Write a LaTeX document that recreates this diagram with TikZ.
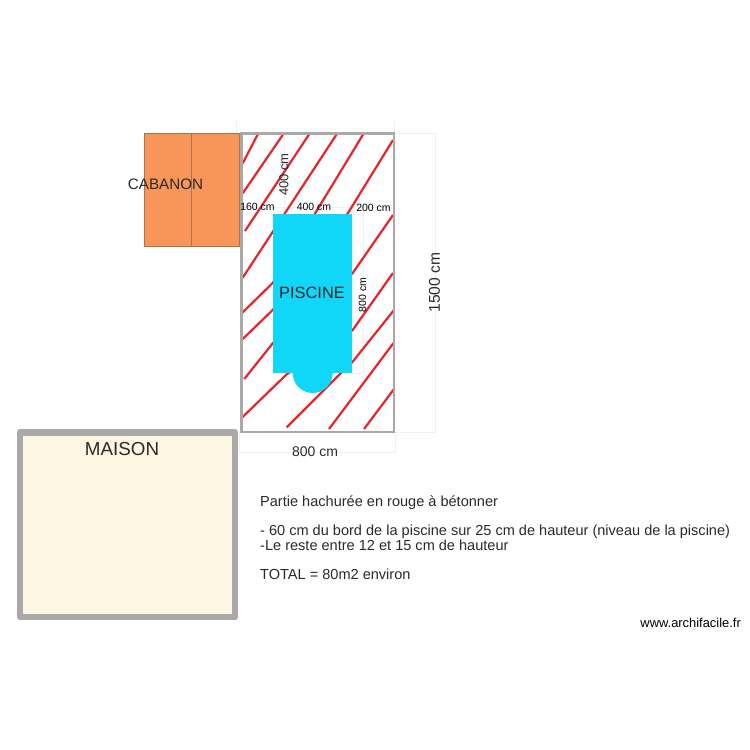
\documentclass[tikz,border=0pt]{standalone}
\usepackage{fontspec}
\setmainfont{Liberation Sans}
\definecolor{hatch}{HTML}{E8252B}
\definecolor{framegray}{HTML}{A9A9A9}
\definecolor{dimgray}{HTML}{F0F0F0}
\definecolor{pool}{HTML}{10D6F8}
\definecolor{cab}{HTML}{F89558}
\definecolor{cabline}{HTML}{A87350}
\definecolor{house}{HTML}{FDF6E3}
\definecolor{txt}{HTML}{2A2A2A}
\tikzset{
  hatchline/.style={draw=hatch,line width=2.2pt},
  dimline/.style={draw=dimgray,line width=0.8pt},
  lbl/.style={inner sep=0pt,text=txt,font=\fontsize{14}{16}\selectfont},
  smalllbl/.style={inner sep=0pt,text=black,font=\fontsize{10.5}{12}\selectfont},
  note/.style={inner sep=0pt,anchor=base west,text=txt,font=\fontsize{14.55}{16}\selectfont}
}
\begin{document}
\begin{tikzpicture}[x=1pt,y=-1pt]
\useasboundingbox (0,0) rectangle (750,750);
\fill[white] (0,0) rectangle (750,750);
% dimension lines
\draw[dimline] (236,133) -- (236,120);
\draw[dimline] (394,133) -- (394,120);
\draw[dimline] (394,133.5) -- (435,133.5) -- (435,432) -- (394,432);
\draw[dimline] (239,432) -- (239,452) -- (395,452) -- (395,432);
\draw[dimline] (284,133) -- (284,214);
\draw[dimline] (241,207) -- (393,207);
\draw[dimline] (273,207) -- (273,214);
\draw[dimline] (352,207) -- (352,214);
\draw[dimline] (352,214) -- (363,214) -- (363,373) -- (352,373);
% hatching
\draw[hatchline] (242.7,163.3) -- (258.3,133.3);
\draw[hatchline] (242.7,193.3) -- (282.7,135);
\draw[hatchline] (245,231) -- (310,133);
\draw[hatchline] (242.7,277.7) -- (337.3,133.3);
\draw[hatchline] (364,133) -- (272.7,283) -- (242.7,312.3);
\draw[hatchline] (393,140) -- (348,213) -- (272.7,310) -- (242.7,339);
\draw[hatchline] (393,215) -- (352.7,273) -- (272.7,343.3) -- (244.3,379);
\draw[hatchline] (393,273) -- (352.7,330) -- (286.7,374.3) -- (242.3,417.3);
\draw[hatchline] (394,310) -- (352.7,361.7) -- (340,374) -- (286.7,427.3);
\draw[hatchline] (393.3,343.3) -- (329,429);
\draw[hatchline] (394,389) -- (364,429);
% frame
\draw[framegray,line width=2.6pt] (241.5,133.5) rectangle (394,432);
% pool
\fill[pool] (272.7,214) rectangle (352.3,373.3);
\fill[pool] (292.7,373) arc[start angle=180,end angle=0,radius=20] -- cycle;
% cabanon
\filldraw[fill=cab,draw=cabline,line width=0.5pt] (144.3,133.3) rectangle (239,246.7);
\draw[cabline,line width=1pt] (191.7,133.3) -- (191.7,246.7);
% maison
\filldraw[fill=house,draw=framegray,line width=6.6pt,line join=round] (20,432.3) rectangle (235,617);
% labels
\node[lbl,font=\fontsize{15.2}{16}\selectfont] (cabanonlabel) at (165.5,184) {CABANON};
\node[lbl,font=\fontsize{16.4}{18}\selectfont] (piscinelabel) at (312,292.5) {PISCINE};
\node[lbl,font=\fontsize{18.8}{20}\selectfont] (maisonlabel) at (122,449.5) {MAISON};
\node[lbl,rotate=90,font=\fontsize{15.6}{18}\selectfont] (d1500) at (434.5,282.5) {1500 cm};
\node[lbl] (d800) at (315,452) {800 cm};
\node[lbl,rotate=90,font=\fontsize{13}{16}\selectfont] (d400v) at (284,174.5) {400 cm};
\node[smalllbl] (d160) at (257.5,207) {160 cm};
\node[smalllbl] (d400) at (314,206.5) {400 cm};
\node[smalllbl] (d200) at (373.5,208) {200 cm};
\node[smalllbl,rotate=90] (d800v) at (362.5,295) {800 cm};
\node[note] (n1) at (260,506) {Partie hachurée en rouge à bétonner};
\node[note] (n2) at (260,535) {- 60 cm du bord de la piscine sur 25 cm de hauteur (niveau de la piscine)};
\node[note] (n3) at (260,550) {-Le reste entre 12 et 15 cm de hauteur};
\node[note] (n4) at (260,579.3) {TOTAL = 80m2 environ};
\node[inner sep=0pt,anchor=base east,text=black,font=\fontsize{12.9}{14}\selectfont] (site) at (741,627) {www.archifacile.fr};
\end{tikzpicture}
\end{document}
